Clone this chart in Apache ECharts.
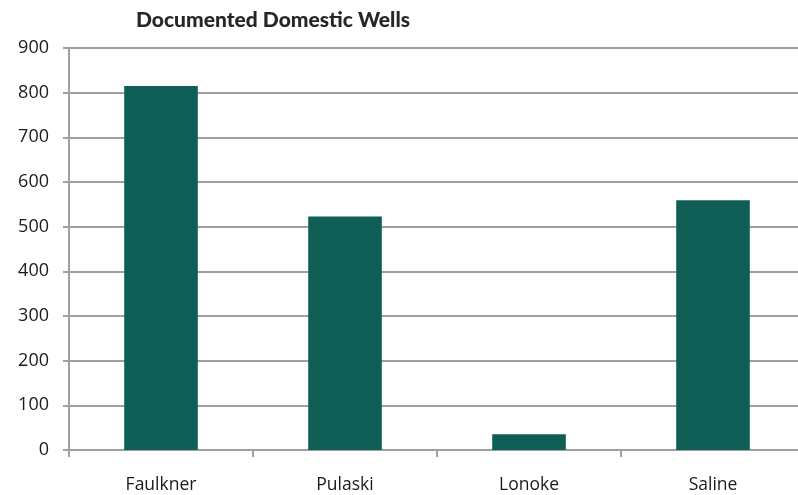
<!DOCTYPE html>
<html>
<head>
<meta charset="utf-8">
<script src="https://cdn.jsdelivr.net/npm/echarts@6/dist/echarts.min.js"></script>
<style>
  html, body { margin: 0; padding: 0; background: #fff; }
  #chart { width: 798px; height: 495px; }
</style>
</head>
<body>
<div id="chart"></div>
<script>
// Domestic wells documented per county
const counties = ['Faulkner', 'Pulaski', 'Lonoke', 'Saline'];
const wellCounts = [815, 523, 35, 559];
const yTicks = { min: 0, max: 900, step: 100 };

const chart = echarts.init(document.getElementById('chart'), null, { renderer: 'canvas' });

const gridColor = '#a0a0a0';
const labelFont = 'Open Sans';

chart.setOption({
  animation: false,
  title: {
    text: 'Documented Domestic Wells',
    left: 268,
    top: 5,
    textAlign: 'center',
    textStyle: {
      fontFamily: 'Lato',
      fontWeight: 900,
      fontSize: 21,
      color: '#262626'
    }
  },
  grid: {
    left: 69,
    top: 48,
    width: 736,
    height: 402,
    containLabel: false,
    outerBoundsMode: 'none'
  },
  xAxis: {
    type: 'category',
    data: counties,
    axisLine: { show: true, lineStyle: { color: gridColor, width: 2 } },
    axisTick: { show: true, length: 7, lineStyle: { color: gridColor, width: 2 } },
    axisLabel: {
      margin: 26,
      fontFamily: labelFont,
      fontSize: 17.5,
      color: '#1a1a1a'
    }
  },
  yAxis: {
    type: 'value',
    min: yTicks.min,
    max: yTicks.max,
    interval: yTicks.step,
    axisLine: { show: true, lineStyle: { color: gridColor, width: 2 } },
    axisTick: { show: true, length: 6, lineStyle: { color: gridColor, width: 2 } },
    splitLine: { show: true, lineStyle: { color: gridColor, width: 2 } },
    axisLabel: {
      margin: 20,
      padding: [4, 0, 0, 0],
      fontFamily: labelFont,
      fontSize: 18,
      color: '#1a1a1a'
    }
  },
  series: [{
    type: 'bar',
    data: wellCounts,
    barWidth: '40%',
    itemStyle: { color: '#0f5e55' }
  }]
});
</script>
</body>
</html>
